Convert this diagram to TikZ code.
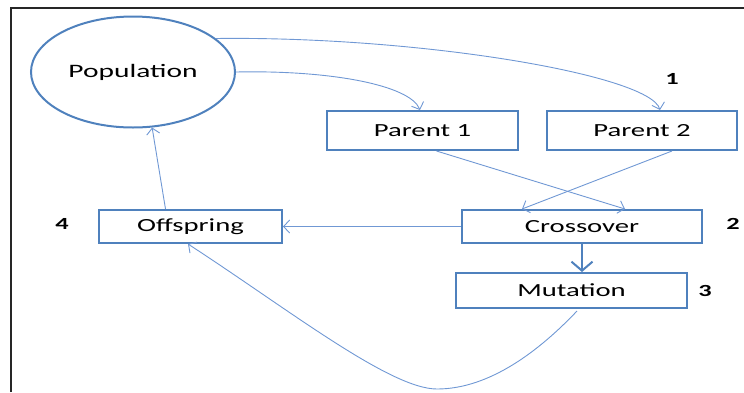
\documentclass[tikz,border=0pt]{standalone}
\usepackage{fontspec}
\setmainfont{Carlito}[FakeStretch=1.55]
\usetikzlibrary{shapes.geometric,arrows.meta,calc}
\definecolor{boxblue}{RGB}{79,129,189}
\definecolor{linkblue}{RGB}{112,152,212}
\tikzset{
  boxnode/.style={draw=boxblue, line width=2pt, rectangle, inner sep=0pt, font=\fontsize{18.5}{21}\selectfont},
  popnode/.style={draw=boxblue, line width=2pt, ellipse, inner sep=0pt, minimum width=204pt, minimum height=111pt, font=\fontsize{19}{21}\selectfont},
  numlabel/.style={font=\fontsize{17}{19}\selectfont\bfseries, inner sep=0pt},
  link/.style={draw=linkblue, line width=0.9pt, -{Straight Barb[length=6pt,width=13pt]}},
  thicklink/.style={draw=boxblue, line width=2pt, -{Straight Barb[length=9pt,width=21pt]}}
}
\begin{document}
\begin{tikzpicture}[x=1pt,y=-1pt]
\useasboundingbox (0,0) rectangle (744,392);
% frame
\draw[line width=2pt, black!85] (11,392) -- (11,8) -- (744,8);
% nodes
\node[popnode] (pop) at (133,72) {\raisebox{-2pt}{Population}};
\node[boxnode, minimum width=191pt, minimum height=39pt] (p1) at (422.5,130.5) {Parent 1};
\node[boxnode, minimum width=190pt, minimum height=39pt] (p2) at (642,130.5) {Parent 2};
\node[boxnode, minimum width=183pt, minimum height=33pt] (off) at (190.5,226.5) {Offspring};
\node[boxnode, minimum width=240pt, minimum height=33pt] (cross) at (582,226.5) {Crossover};
\node[boxnode, minimum width=231pt, minimum height=35pt] (mut) at (571.5,290.5) {Mutation};
% number labels
\node[numlabel] (n1) at (672,79) {1};
\node[numlabel] (n2) at (733,224) {2};
\node[numlabel] (n3) at (705,291) {3};
\node[numlabel] (n4) at (62,224) {4};
% connectors
\draw[link] (pop.east) .. controls (330,70) and (410,85) .. ($(p1.north)+(-2.5,0)$);
\draw[link] (pop.22) .. controls (420,36) and (650,75) .. ($(p2.north)+(18,0)$);
\draw[link] ($(p1.south)+(14,0)$) -- ($(cross.north)+(43,0)$);
\draw[link] ($(p2.south)+(30,0)$) -- ($(cross.north)+(-60,0)$);
\draw[link] (cross.west) -- (off.east);
\draw[thicklink] (cross.south) -- (cross.south |- mut.north);
\coordinate (low) at (437,389);
\draw[link] ($(mut.south)+(5.5,2)$) .. controls (540,350) and (490,389) .. (low)
  .. controls (390,389) and (288,309) .. ($(off.south)+(-2.5,0)$);
\draw[link] ($(off.north)+(-25,0)$) -- (pop.-71);
\end{tikzpicture}
\end{document}
